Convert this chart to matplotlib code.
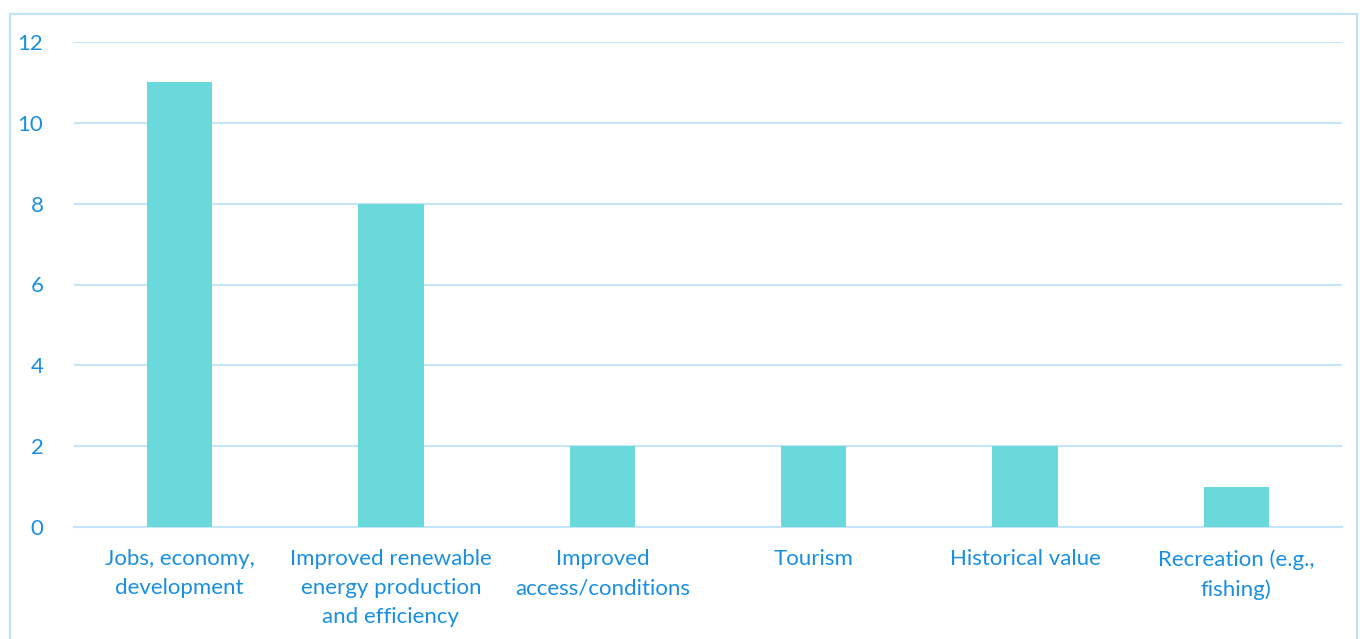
import matplotlib.pyplot as plt
from matplotlib.patches import Rectangle

# data
categories = [
    "Jobs, economy,\ndevelopment",
    "Improved renewable\nenergy production\nand efficiency",
    "Improved\naccess/conditions",
    "Tourism",
    "Historical value",
    "Recreation (e.g.,\nfishing)",
]
values = [11, 8, 2, 2, 2, 1]
y_ticks = [0, 2, 4, 6, 8, 10, 12]

text_color = "#1A8FE0"
bar_color = "#69D9DC"
grid_color = "#C5E6F8"

plt.rcParams["font.family"] = ["Lato", "DejaVu Sans"]

fig = plt.figure(figsize=(13.6, 6.39), dpi=100)
ax = fig.add_axes([74 / 1360, 1 - 527 / 639, (1342 - 74) / 1360, (527 - 42) / 639])

# outer border
fig.patches.append(Rectangle((10 / 1360, -0.05), (1357 - 10) / 1360, (639 - 14) / 639 + 0.05,
                             transform=fig.transFigure, fill=False,
                             edgecolor="#BDE3F8", linewidth=1.5))

x = range(len(categories))
ax.bar(x, values, width=0.31, color=bar_color, zorder=3)

ax.set_xlim(-0.5, len(categories) - 0.5)
ax.set_ylim(0, 12)
ax.set_yticks(y_ticks)
ax.set_xticks(list(x))
ax.set_xticklabels(categories, linespacing=1.55)

ax.yaxis.grid(True, color=grid_color, linewidth=1.5, zorder=0)
ax.set_axisbelow(True)
for s in ["top", "right", "left"]:
    ax.spines[s].set_visible(False)
ax.spines["bottom"].set_color(grid_color)
ax.spines["bottom"].set_linewidth(1.5)

ax.tick_params(axis="both", length=0, colors=text_color, labelsize=16)
ax.tick_params(axis="y", pad=22)
ax.tick_params(axis="x", pad=16)

fig.savefig("out.png", dpi=100)
